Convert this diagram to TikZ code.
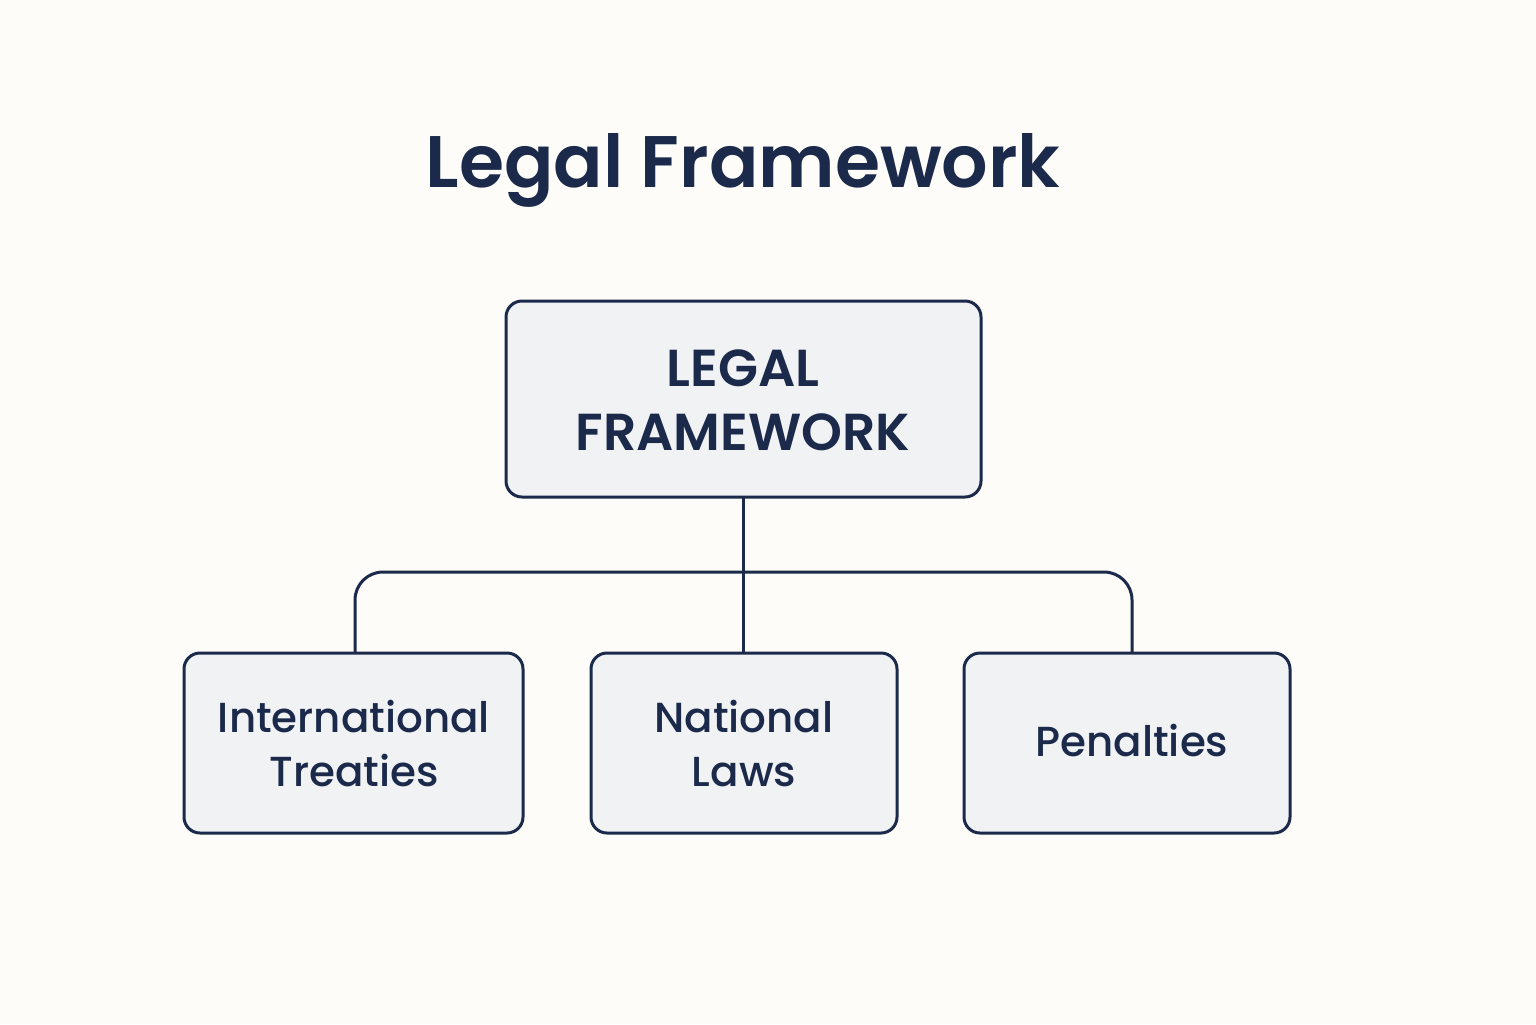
\documentclass[tikz,border=0pt]{standalone}
\usepackage{fontspec}
\setmainfont{Poppins}[UprightFont=* Medium, BoldFont=* SemiBold]
\definecolor{navy}{HTML}{1B2A4A}
\definecolor{boxfill}{HTML}{F1F2F4}
\definecolor{bg}{HTML}{FDFCF9}
\begin{document}
\begin{tikzpicture}[x=0.5pt,y=-0.5pt,
  box/.style={draw=navy,line width=1.5pt,fill=boxfill,rounded corners=8pt,inner sep=0pt},
  lbl/.style={text=navy,align=center,font=\fontsize{21}{27}\selectfont},
  conn/.style={draw=navy,line width=1.5pt}]
\fill[bg] (0,0) rectangle (1536,1024);
\node[text=navy,font=\bfseries\fontsize{36.5}{44}\selectfont] (title) at (743,170) {Legal Framework};
\draw[box] (506,301) rectangle (981,497);
\node[lbl,font=\bfseries\fontsize{26}{32}\selectfont] (top) at (743,400) {LEGAL\\FRAMEWORK};
\draw[box] (184,653) rectangle (523,833);
\node[lbl] (a) at (354,744) {International\\Treaties};
\draw[box] (591,653) rectangle (897,833);
\node[lbl] (b) at (744,744) {National\\Laws};
\draw[box] (964,653) rectangle (1290,833);
\node[lbl] (c) at (1132,741) {Penalties};
\coordinate (tb) at (743,497);
\coordinate (bb) at (743,653);
\coordinate (la) at (355,653);
\coordinate (lc) at (1132,653);
\draw[conn] (tb) -- (bb);
\draw[conn,rounded corners=14pt] (la) -- (355,572) -- (1132,572) -- (lc);
\end{tikzpicture}
\end{document}
